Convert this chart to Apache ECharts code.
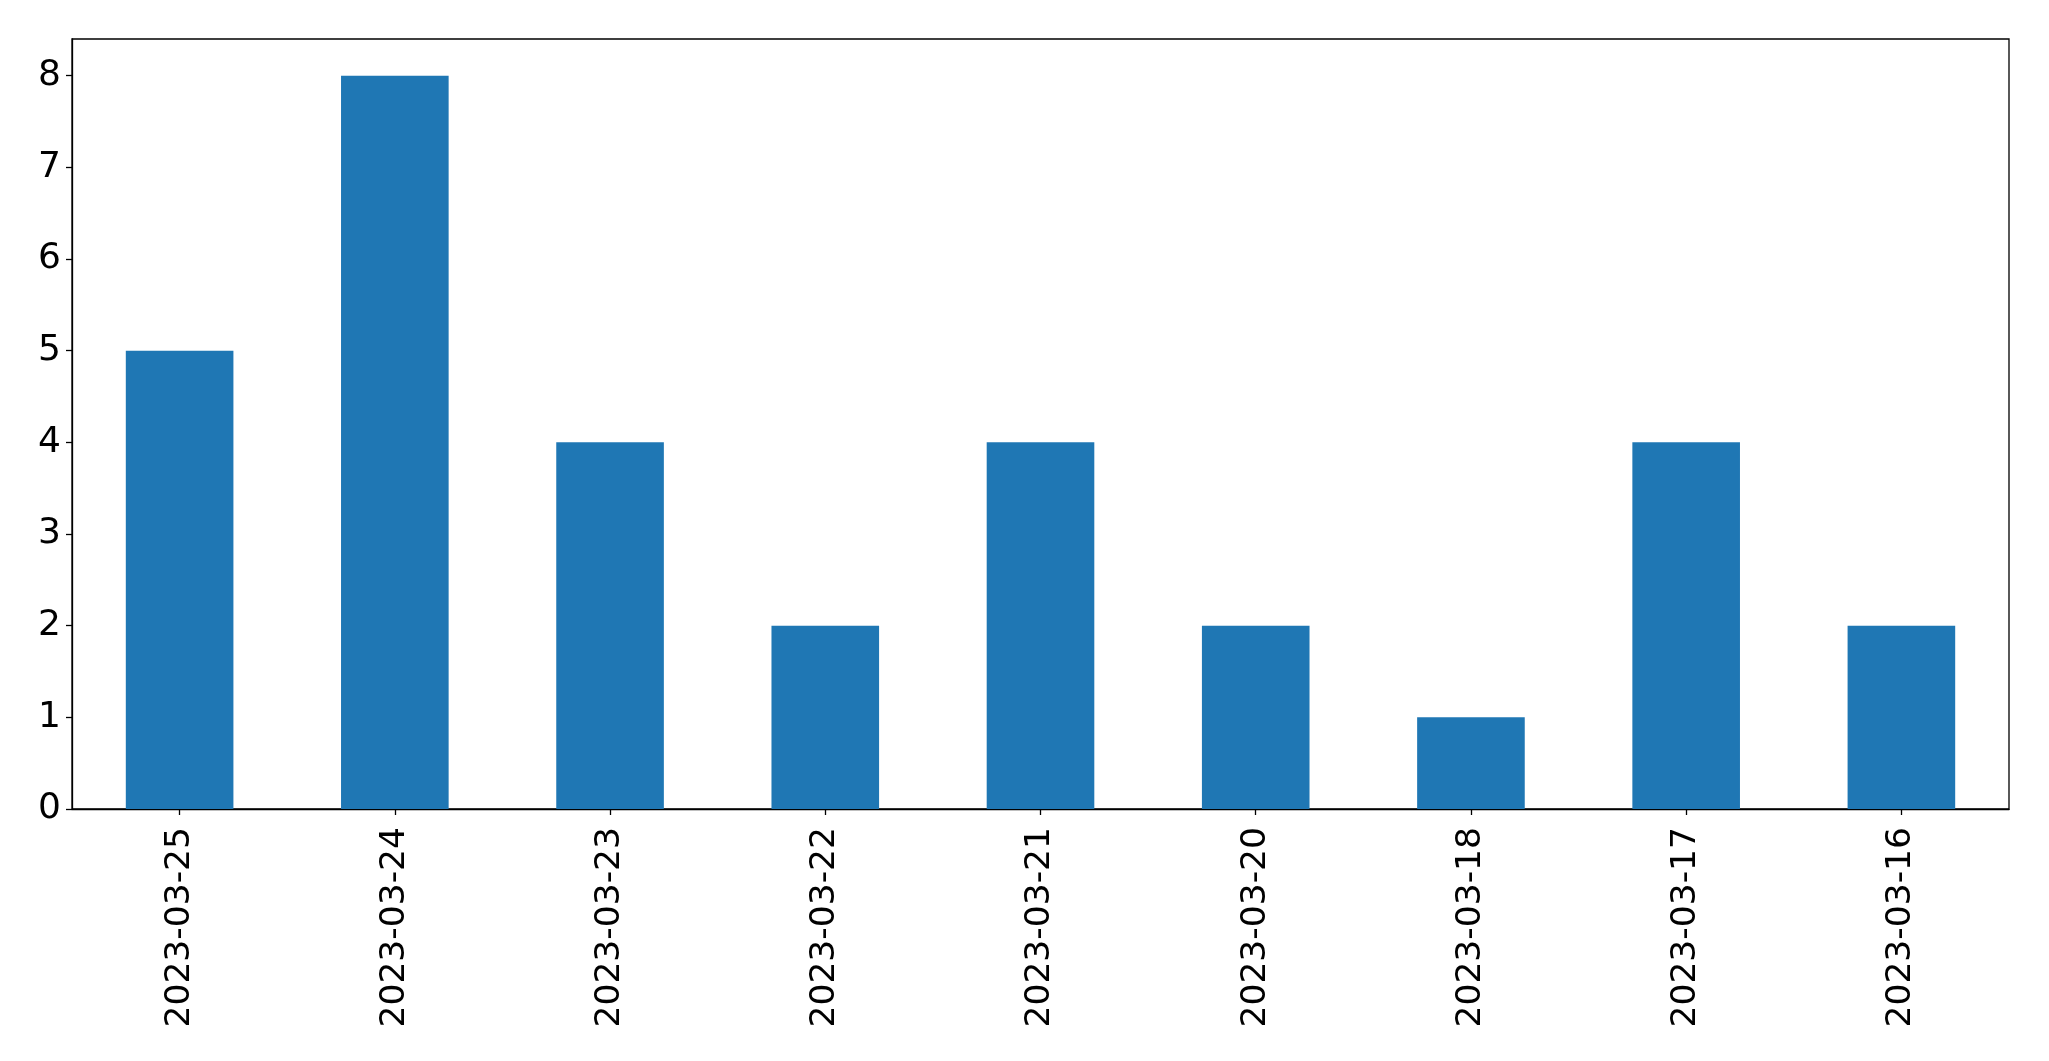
<!DOCTYPE html>
<html>
<head>
<meta charset="utf-8">
<script src="https://cdn.jsdelivr.net/npm/echarts@6/dist/echarts.min.js"></script>
<style>
html,body{margin:0;padding:0;background:#fff;}
#c{width:2049px;height:1061px;}
</style>
</head>
<body>
<div id="c"></div>
<script>
const categories = ['2023-03-25','2023-03-24','2023-03-23','2023-03-22','2023-03-21','2023-03-20','2023-03-18','2023-03-17','2023-03-16'];
const values = [5, 8, 4, 2, 4, 2, 1, 4, 2];
const yTicks = [0, 1, 2, 3, 4, 5, 6, 7, 8];

const chart = echarts.init(document.getElementById('c'), null, {renderer: 'canvas'});
chart.setOption({
  animation: false,
  backgroundColor: '#ffffff',
  grid: {
    left: 72, right: 40, top: 39, bottom: 252,
    show: true, borderColor: '#000', borderWidth: 1.3, backgroundColor: 'transparent'
  },
  xAxis: {
    type: 'category',
    data: categories,
    boundaryGap: true,
    axisLine: {show: true, lineStyle: {color: '#000', width: 1.3}},
    axisTick: {show: true, alignWithLabel: true, length: 6, lineStyle: {color: '#000', width: 1.3}},
    axisLabel: {
      rotate: 90, margin: 18, color: '#000', fontSize: 34.5,
      fontFamily: 'DejaVu Sans', interval: 0
    },
    splitLine: {show: false}
  },
  yAxis: {
    type: 'value',
    min: 0, max: 8.4, interval: 1,
    axisLine: {show: true, lineStyle: {color: '#000', width: 1.3}},
    axisTick: {show: true, length: 6, lineStyle: {color: '#000', width: 1.3}, customValues: yTicks},
    axisLabel: {color: '#000', fontSize: 36, fontFamily: 'DejaVu Sans', margin: 11, customValues: yTicks},
    splitLine: {show: false}
  },
  series: [{
    type: 'bar',
    data: values,
    barWidth: '50%',
    itemStyle: {color: '#1f77b4'}
  }]
});
</script>
</body>
</html>
